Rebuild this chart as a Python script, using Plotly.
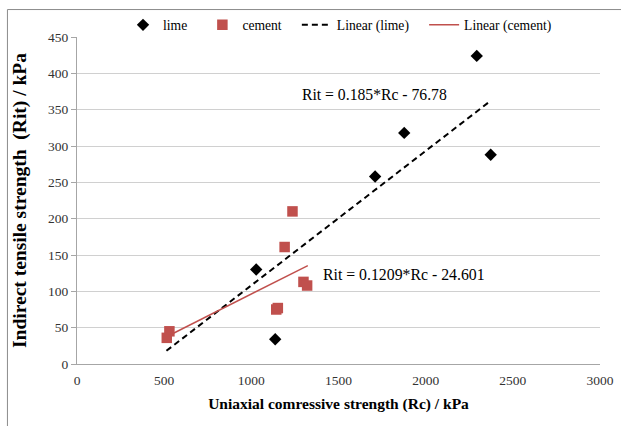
import plotly.graph_objects as go

# Data
lime_rc = [1028, 1137, 1710, 1877, 2293, 2373]
lime_rit = [130, 34, 258, 318, 424, 288]
cement_rc = [515, 530, 1143, 1152, 1191, 1236, 1299, 1320]
cement_rit = [36, 45, 75, 77, 161, 210, 113, 108]

# Trendline coefficients (as stated on the chart) and drawn extents
lime_fit = [0.185, -76.78]
lime_fit_x = [513, 2360]
cement_fit = [0.1209, -24.601]
cement_fit_x = [525, 1324]

lime_eq = "Rit = 0.185*Rc - 76.78"
cement_eq = "Rit = 0.1209*Rc - 24.601"

x_ticks = [0, 500, 1000, 1500, 2000, 2500, 3000]
y_ticks = [0, 50, 100, 150, 200, 250, 300, 350, 400, 450]

FONT = "Liberation Serif"
RED = "#C0504D"
PAD = "\u00a0\u00a0\u00a0"

fig = go.Figure()
fig.add_trace(go.Scatter(x=lime_rc, y=lime_rit, mode="markers", name="lime" + PAD,
                         marker=dict(symbol="diamond", size=9.5, color="black")))
fig.add_trace(go.Scatter(x=cement_rc, y=cement_rit, mode="markers", name="cement" + PAD,
                         marker=dict(symbol="square", size=10.5, color=RED)))
fig.add_trace(go.Scatter(x=lime_fit_x, y=[lime_fit[0] * v + lime_fit[1] for v in lime_fit_x],
                         mode="lines", name="Linear (lime)" + PAD,
                         line=dict(color="black", width=2, dash="6px,4px")))
fig.add_trace(go.Scatter(x=cement_fit_x, y=[cement_fit[0] * v + cement_fit[1] for v in cement_fit_x],
                         mode="lines", name="Linear (cement)",
                         line=dict(color=RED, width=1.5)))

fig.add_annotation(x=1706, y=371, text=lime_eq, showarrow=False,
                   font=dict(family=FONT, size=15.7, color="black"))
fig.add_annotation(x=1877, y=123, text=cement_eq, showarrow=False,
                   font=dict(family=FONT, size=15.8, color="black"))

# outer chart border (cropped at right/bottom in the reference)
fig.add_shape(type="rect", xref="paper", yref="paper",
              x0=-0.133, x1=1.2, y0=-0.4, y1=1.084,
              line=dict(color="#8c8c8c", width=1), fillcolor="rgba(0,0,0,0)", layer="below")

fig.update_layout(
    width=621, height=426,
    margin=dict(l=77, r=21, t=37, b=62, autoexpand=False),
    paper_bgcolor="white", plot_bgcolor="white",
    font=dict(family=FONT, size=13, color="#222"),
    showlegend=True,
    legend=dict(orientation="h", x=0.088, xanchor="left", y=1.084, yanchor="top",
                font=dict(family=FONT, size=13.6, color="black"),
                bgcolor="rgba(0,0,0,0)", itemwidth=30),
    xaxis=dict(range=[0, 3000], tickvals=x_ticks, showgrid=False, zeroline=False,
               showline=True, linecolor="#a6a6a6", linewidth=1, automargin=False,
               ticks="", ticklabelstandoff=4, tickfont=dict(family=FONT, size=13.5, color="#333"),
               title=dict(text="<b>Uniaxial comressive strength (Rc) / kPa</b>",
                          font=dict(family=FONT, size=15.5, color="black"), standoff=10)),
    yaxis=dict(range=[0, 450], tickvals=y_ticks, showgrid=True, gridcolor="#d0d0d0",
               zeroline=False, showline=True, linecolor="#a6a6a6", linewidth=1, automargin=False,
               ticks="outside", ticklen=5, tickcolor="#a6a6a6",
               tickfont=dict(family=FONT, size=13.5, color="#333"),
               title=dict(text="<b>Indirect tensile strength  (Rit) / kPa</b>",
                          font=dict(family=FONT, size=19.5, color="black"), standoff=16)),
)

fig.write_html("out.html")
